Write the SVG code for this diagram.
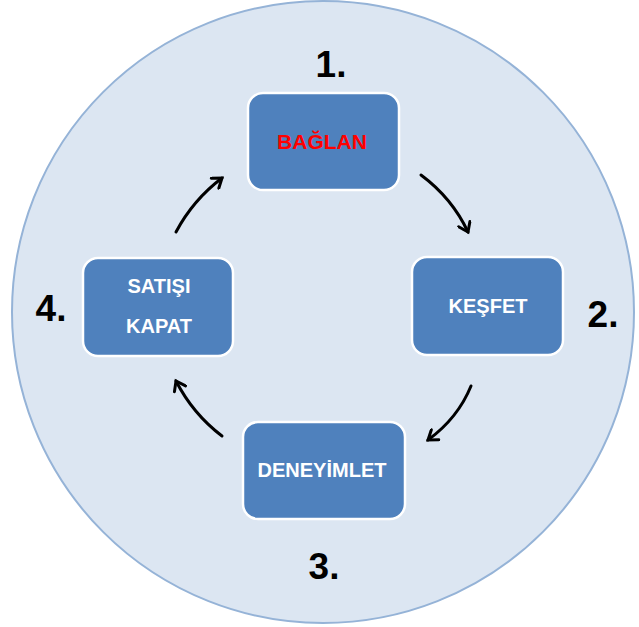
<svg xmlns="http://www.w3.org/2000/svg" width="639" height="627" viewBox="0 0 639 627">
<defs>
<marker id="ah" viewBox="0 0 12 12" refX="9" refY="6" markerWidth="5" markerHeight="5" orient="auto" markerUnits="strokeWidth">
<path d="M2,1 L9,6 L2,11" fill="none" stroke="#000" stroke-width="2.4" stroke-linecap="round" stroke-linejoin="miter"/>
</marker>
</defs>
<style>
.box{fill:#4f81bd;stroke:#ffffff;stroke-width:2.5}
.lbl{font-family:"Liberation Sans",Arial,sans-serif;font-weight:bold;font-size:20px;fill:#ffffff;text-anchor:middle}
.num{font-family:"Liberation Sans",Arial,sans-serif;font-weight:bold;font-size:37px;fill:#000;text-anchor:middle}
.arr{fill:none;stroke:#000;stroke-width:3;stroke-linecap:round;marker-end:url(#ah)}
</style>
<rect width="639" height="627" fill="#ffffff"/>
<circle cx="323" cy="312" r="311" fill="#dce6f2" stroke="#95b3d7" stroke-width="2"/>
<g id="node1">
<rect class="box" x="248" y="93" width="151" height="97" rx="15"/>
<text class="lbl" x="322" y="149" style="fill:#ff0000;font-size:21px">BAĞLAN</text>
<text class="num" x="331" y="77">1.</text>
</g>
<g id="node2">
<rect class="box" x="412" y="257" width="151" height="98" rx="15"/>
<text class="lbl" x="488" y="313">KEŞFET</text>
<text class="num" x="603" y="327">2.</text>
</g>
<g id="node3">
<rect class="box" x="243" y="422" width="162" height="97" rx="15"/>
<text class="lbl" x="322" y="477">DENEYİMLET</text>
<text class="num" x="324" y="579">3.</text>
</g>
<g id="node4">
<rect class="box" x="83" y="258" width="150" height="98" rx="15"/>
<text class="lbl" x="159" y="293">SATIŞI</text>
<text class="lbl" x="159" y="333">KAPAT</text>
<text class="num" x="51" y="321">4.</text>
</g>
<g id="connectors">
<path class="arr" d="M421,175 Q452,198 468,232"/>
<path class="arr" d="M471,386 Q458,418 428,440"/>
<path class="arr" d="M222,436 Q193,414 176,381"/>
<path class="arr" d="M176,232 Q193,200 222,178"/>
</g>
</svg>
